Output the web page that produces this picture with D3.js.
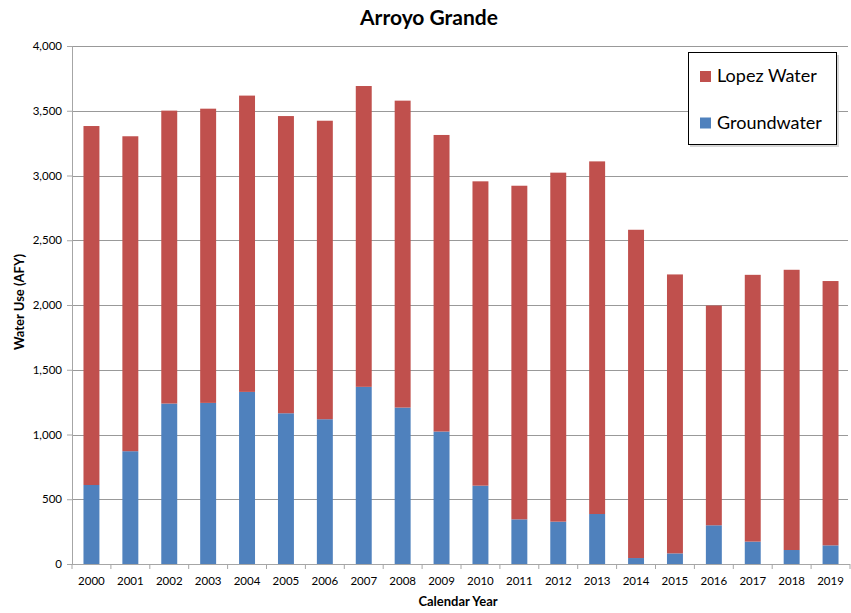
<!DOCTYPE html>
<html>
<head>
<meta charset="utf-8">
<script src="https://cdn.jsdelivr.net/npm/d3@7"></script>
<style>
  html, body { margin: 0; padding: 0; background: #fff; }
  svg { display: block; }
  text { font-family: Lato, "Open Sans", sans-serif; fill: #000; }
</style>
</head>
<body>
<svg id="chart" width="851" height="613"></svg>
<script>
// Annual water use, Arroyo Grande (acre-feet per year)
const years = ["2000","2001","2002","2003","2004","2005","2006","2007","2008","2009",
               "2010","2011","2012","2013","2014","2015","2016","2017","2018","2019"];
const groundwater = [610, 871, 1239, 1244, 1329, 1164, 1118, 1368, 1208, 1023,
                     605, 345, 327, 386, 46, 82, 299, 173, 108, 144];
const lopezWater  = [2772, 2432, 2262, 2272, 2288, 2295, 2305, 2323, 2370, 2290,
                     2350, 2576, 2695, 2723, 2535, 2154, 1697, 2060, 2164, 2041];
const yTicks = [0, 500, 1000, 1500, 2000, 2500, 3000, 3500, 4000];
const seriesNames = ["Groundwater", "Lopez Water"];
const seriesColors = ["#4f81bd", "#c0504d"];

const svg = d3.select("#chart");
const plotLeft = 72, plotRight = 850, plotTop = 46, plotBottom = 564;

const x = d3.scaleBand().domain(years).range([plotLeft, plotRight]).paddingInner(0.59).paddingOuter(0.295);
const xCat = d3.scaleBand().domain(years).range([plotLeft, plotRight]).padding(0);
const y = d3.scaleLinear().domain([0, 4000]).range([plotBottom, plotTop]);

// gridlines
svg.append("g").selectAll("line").data(yTicks.filter(d => d > 0)).join("line")
  .attr("x1", plotLeft).attr("x2", 848)
  .attr("y1", d => Math.round(y(d)) + 0.5).attr("y2", d => Math.round(y(d)) + 0.5)
  .attr("stroke", "#999").attr("stroke-width", 1);

// stacked bars
const rows = years.map((yr, i) => ({ year: yr, Groundwater: groundwater[i], "Lopez Water": lopezWater[i] }));
const stack = d3.stack().keys(seriesNames)(rows);
svg.append("g").selectAll("g").data(stack).join("g")
  .attr("fill", (d, i) => seriesColors[i])
  .selectAll("rect").data(d => d).join("rect")
  .attr("x", d => x(d.data.year))
  .attr("width", x.bandwidth())
  .attr("y", d => y(d[1]))
  .attr("height", d => y(d[0]) - y(d[1]));

// y axis
const yAxis = svg.append("g").attr("transform", `translate(${plotLeft},0)`)
  .call(d3.axisLeft(y).tickValues(yTicks).tickFormat(d3.format(",")).tickSize(5).tickPadding(5));
yAxis.select(".domain").attr("stroke", "#a6a6a6");
yAxis.selectAll(".tick line").attr("stroke", "#a6a6a6");
yAxis.selectAll(".tick text").attr("font-size", 11.5).attr("font-family", "Lato, sans-serif").attr("fill", "#000");

// x axis: ticks at category boundaries, labels at centres
const xAxisG = svg.append("g").attr("transform", `translate(0,${plotBottom})`);
xAxisG.append("line").attr("x1", plotLeft).attr("x2", plotRight).attr("y1", 0.5).attr("y2", 0.5).attr("stroke", "#a6a6a6");
xAxisG.selectAll("line.tk").data(years.concat(["end"])).join("line").attr("class", "tk")
  .attr("x1", (d, i) => plotLeft + i * xCat.step()).attr("x2", (d, i) => plotLeft + i * xCat.step())
  .attr("y1", 0).attr("y2", 5).attr("stroke", "#a6a6a6");
xAxisG.selectAll("text").data(years).join("text")
  .attr("x", d => xCat(d) + xCat.bandwidth() / 2).attr("y", 21)
  .attr("text-anchor", "middle").attr("font-size", 11.5).text(d => d);

// titles
svg.append("text").attr("x", 429).attr("y", 25).attr("text-anchor", "middle")
  .attr("font-size", 21).attr("font-weight", "bold").text("Arroyo Grande");
svg.append("text").attr("x", 458).attr("y", 606).attr("text-anchor", "middle")
  .attr("font-size", 13).attr("font-weight", "bold").text("Calendar Year");
svg.append("text").attr("transform", "translate(24,302) rotate(-90)").attr("text-anchor", "middle")
  .attr("font-size", 13).attr("font-weight", "bold").text("Water Use (AFY)");

// legend
const lg = svg.append("g");
lg.append("rect").attr("x", 690).attr("y", 55).attr("width", 149).attr("height", 92).attr("fill", "#bbb").attr("opacity", 0.6);
lg.append("rect").attr("x", 688.5).attr("y", 52.5).attr("width", 148).attr("height", 92)
  .attr("fill", "#fff").attr("stroke", "#000").attr("stroke-width", 1);
const legendItems = [{ name: "Lopez Water", color: seriesColors[1] }, { name: "Groundwater", color: seriesColors[0] }];
legendItems.forEach((d, i) => {
  const yy = 71 + i * 46.5;
  lg.append("rect").attr("x", 700).attr("y", yy).attr("width", 11).attr("height", 11).attr("fill", d.color);
  lg.append("text").attr("x", 717).attr("y", yy + 11).attr("font-size", 18).text(d.name);
});
</script>
</body>
</html>
